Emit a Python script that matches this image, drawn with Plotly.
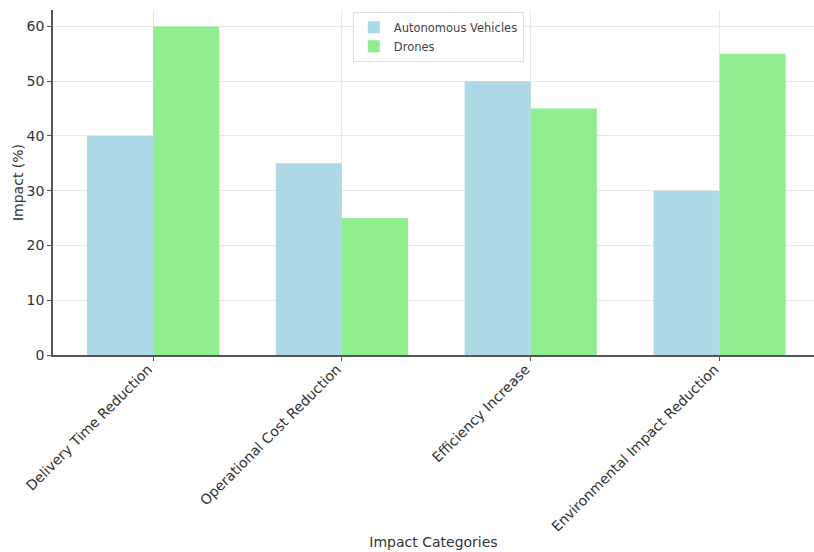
import plotly.graph_objects as go

categories = ["Delivery Time Reduction", "Operational Cost Reduction", "Efficiency Increase", "Environmental Impact Reduction"]
autonomous = [40, 35, 50, 30]
drones = [60, 25, 45, 55]
y_ticks = [0, 10, 20, 30, 40, 50, 60]

font = "DejaVu Sans"
fig = go.Figure()
fig.add_trace(go.Bar(x=categories, y=autonomous, name="Autonomous Vehicles",
                     marker=dict(color="#ADD8E6", line=dict(width=0))))
fig.add_trace(go.Bar(x=categories, y=drones, name="Drones",
                     marker=dict(color="#90EE90", line=dict(width=0))))

fig.update_layout(
    width=814, height=552,
    margin=dict(l=53, r=0, t=10, b=197),
    paper_bgcolor="white", plot_bgcolor="white",
    barmode="group", bargap=0.3, bargroupgap=0,
    font=dict(family=font, size=14, color="#333333"),
    showlegend=True,
    legend=dict(x=0.394, y=0.995, xanchor="left", yanchor="top",
                bgcolor="rgba(255,255,255,0.8)", bordercolor="#dddddd", borderwidth=1,
                font=dict(size=11.5, color="#444444"), tracegroupgap=0,
                itemwidth=30),
    xaxis=dict(
        range=[-0.53, 3.50],
        tickangle=-45,
        showgrid=True, gridcolor="#e8e8e8", gridwidth=1,
        showline=True, linecolor="#555555", linewidth=1.5,
        ticks="outside", ticklen=4, tickcolor="#555555",
        ticklabelstandoff=-5, ticklabelshift=-5,
        title=dict(text="Impact Categories", font=dict(size=14, color="#333333"), standoff=4),
        tickfont=dict(size=14, color="#333333"),
    ),
    yaxis=dict(
        range=[0, 63],
        tickvals=y_ticks,
        showgrid=True, gridcolor="#e8e8e8", gridwidth=1,
        showline=True, linecolor="#555555", linewidth=1.5,
        ticks="outside", ticklen=4, tickcolor="#555555",
        zeroline=False,
        title=dict(text="Impact (%)", font=dict(size=14, color="#333333"), standoff=0),
        tickfont=dict(size=14, color="#333333"),
    ),
)

fig.write_html("out.html")
